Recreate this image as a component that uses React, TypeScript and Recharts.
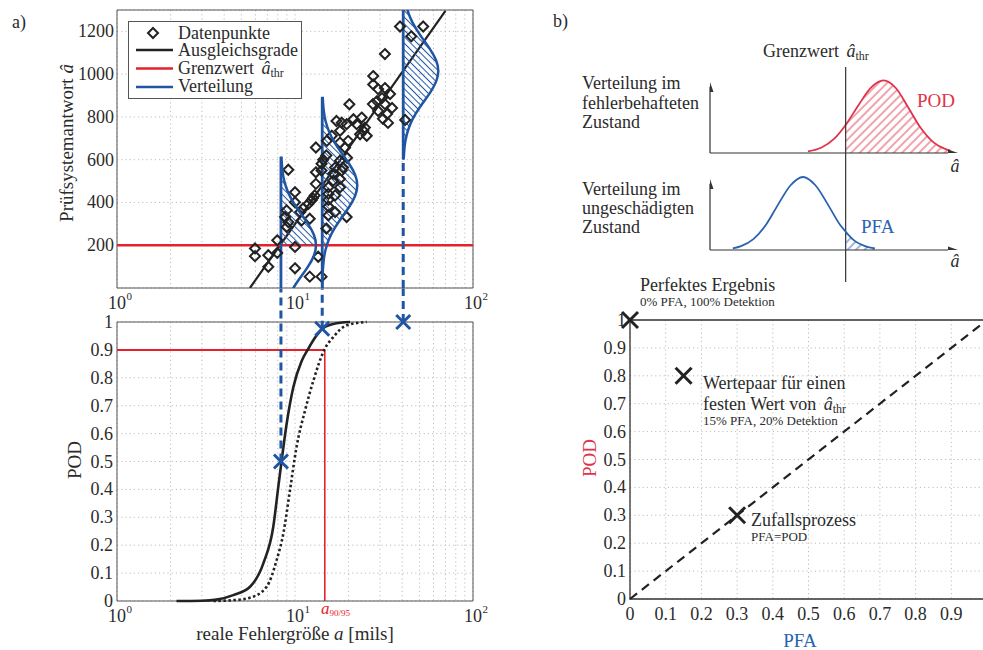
import React from 'react';
import {
  ComposedChart, Line, Scatter, Area, XAxis, YAxis, CartesianGrid,
  ReferenceLine, ReferenceArea, Legend,
} from 'recharts';

const FONT = '"Liberation Serif", "Times New Roman", serif';
const TXT = '#2b2b2b';
const BLUE = '#1f55a3';
const RED = '#e5222b';
const RED2 = '#e0334a';
const BLUE2 = '#2a62b0';
const GRID = '#bdbdbd';
const BOX = '#555';

// ---------- a) oben: Prüfsystemantwort über Fehlergröße
const logTicks = [1, 2, 3, 4, 5, 6, 7, 8, 9, 10, 20, 30, 40, 50, 60, 70, 80, 90, 100];
const decadeTicks = [1, 10, 100];
const antwortTicks = [200, 400, 600, 800, 1000, 1200];

const datenpunkte = [
  { a: 5.96, v: 185 }, { a: 5.96, v: 149 }, { a: 7.08, v: 153 }, { a: 7.08, v: 99 },
  { a: 7.95, v: 223 }, { a: 7.95, v: 164 }, { a: 9.17, v: 553 }, { a: 10.0, v: 448 },
  { a: 10.0, v: 401 }, { a: 8.98, v: 363 }, { a: 8.8, v: 332 }, { a: 9.17, v: 308 },
  { a: 8.98, v: 285 }, { a: 10.9, v: 316 }, { a: 12.1, v: 324 }, { a: 10.0, v: 192 },
  { a: 10.0, v: 92 }, { a: 12.1, v: 53 }, { a: 13.5, v: 146 }, { a: 14.1, v: 53 },
  { a: 10.7, v: 355 }, { a: 11.1, v: 372 }, { a: 11.9, v: 394 }, { a: 12.4, v: 410 },
  { a: 12.9, v: 433 }, { a: 12.6, v: 420 }, { a: 13.1, v: 657 }, { a: 13.1, v: 541 },
  { a: 13.1, v: 487 }, { a: 15.0, v: 278 }, { a: 15.4, v: 471 }, { a: 15.4, v: 440 },
  { a: 15.4, v: 412 }, { a: 15.4, v: 381 }, { a: 15.4, v: 340 }, { a: 16.8, v: 355 },
  { a: 16.8, v: 433 }, { a: 19.5, v: 332 }, { a: 17.9, v: 471 }, { a: 17.9, v: 510 },
  { a: 18.3, v: 549 }, { a: 17.9, v: 595 }, { a: 14.1, v: 581 }, { a: 14.1, v: 549 },
  { a: 16.4, v: 535 }, { a: 16.4, v: 502 }, { a: 16.8, v: 563 }, { a: 19.1, v: 656 },
  { a: 19.6, v: 609 }, { a: 18.6, v: 563 }, { a: 15.0, v: 620 }, { a: 14.4, v: 600 },
  { a: 17.1, v: 781 }, { a: 18.3, v: 773 }, { a: 19.5, v: 766 }, { a: 21.3, v: 789 },
  { a: 22.2, v: 766 }, { a: 23.7, v: 797 }, { a: 24.7, v: 750 }, { a: 24.2, v: 735 },
  { a: 25.3, v: 712 }, { a: 23.2, v: 719 }, { a: 17.9, v: 735 }, { a: 16.1, v: 712 },
  { a: 19.9, v: 688 }, { a: 17.9, v: 680 }, { a: 15.1, v: 688 }, { a: 20.2, v: 859 },
  { a: 27.5, v: 952 }, { a: 29.3, v: 930 }, { a: 32.0, v: 935 }, { a: 34.2, v: 907 },
  { a: 30.8, v: 888 }, { a: 28.9, v: 874 }, { a: 27.4, v: 860 }, { a: 32.0, v: 860 },
  { a: 35.1, v: 842 }, { a: 29.3, v: 828 }, { a: 32.9, v: 814 }, { a: 31.2, v: 791 },
  { a: 33.3, v: 772 }, { a: 27.5, v: 991 }, { a: 32.0, v: 1094 }, { a: 41.6, v: 786 },
  { a: 38.9, v: 1223 }, { a: 45.0, v: 1177 }, { a: 52.5, v: 1223 },
];

const ausgleichsgrade = [{ a: 5.58, v: 0 }, { a: 70, v: 1296 }];
const grenzwert = 200;

const verteilung1 = [
  { a: 8.38, v: 614 }, { a: 8.5, v: 550 }, { a: 8.71, v: 500 }, { a: 9.12, v: 450 },
  { a: 9.79, v: 400 }, { a: 10.74, v: 350 }, { a: 11.83, v: 300 }, { a: 12.75, v: 250 },
  { a: 13.12, v: 200 }, { a: 12.75, v: 150 }, { a: 11.83, v: 100 }, { a: 10.74, v: 50 },
  { a: 9.79, v: 0 }, { a: 9.12, v: -50 },
];
const schraffur1 = [
  { a: 8.337, v: 200 }, { a: 8.337, v: 614 }, { a: 8.38, v: 614 }, { a: 8.5, v: 550 },
  { a: 8.71, v: 500 }, { a: 9.12, v: 450 }, { a: 9.79, v: 400 }, { a: 10.74, v: 350 },
  { a: 11.83, v: 300 }, { a: 12.75, v: 250 }, { a: 13.12, v: 200 },
];
const verteilung2 = [
  { a: 14.3, v: 894 }, { a: 14.5, v: 830 }, { a: 14.86, v: 780 }, { a: 15.56, v: 730 },
  { a: 16.7, v: 680 }, { a: 18.32, v: 630 }, { a: 20.18, v: 580 }, { a: 21.75, v: 530 },
  { a: 22.38, v: 480 }, { a: 21.75, v: 430 }, { a: 20.18, v: 380 }, { a: 18.32, v: 330 },
  { a: 16.7, v: 280 }, { a: 15.56, v: 230 }, { a: 14.86, v: 180 }, { a: 14.5, v: 130 },
  { a: 14.3, v: 66 }, { a: 14.24, v: 0 },
];
const schraffur2 = [
  { a: 14.22, v: 200 }, { a: 14.22, v: 894 }, { a: 14.3, v: 894 }, { a: 14.5, v: 830 },
  { a: 14.86, v: 780 }, { a: 15.56, v: 730 }, { a: 16.7, v: 680 }, { a: 18.32, v: 630 },
  { a: 20.18, v: 580 }, { a: 21.75, v: 530 }, { a: 22.38, v: 480 }, { a: 21.75, v: 430 },
  { a: 20.18, v: 380 }, { a: 18.32, v: 330 }, { a: 16.7, v: 280 }, { a: 15.56, v: 230 },
  { a: 15.1, v: 200 },
];
const verteilung3 = [
  { a: 40.76, v: 1429 }, { a: 41.33, v: 1365 }, { a: 42.38, v: 1315 }, { a: 44.36, v: 1265 },
  { a: 47.65, v: 1215 }, { a: 52.23, v: 1165 }, { a: 57.54, v: 1115 }, { a: 62.03, v: 1065 },
  { a: 63.83, v: 1015 }, { a: 62.03, v: 965 }, { a: 57.54, v: 915 }, { a: 52.23, v: 865 },
  { a: 47.65, v: 815 }, { a: 44.36, v: 765 }, { a: 42.38, v: 715 }, { a: 41.33, v: 665 },
  { a: 40.76, v: 601 },
];
const schraffur3 = [{ a: 40.55, v: 601 }, { a: 40.55, v: 1429 }, ...verteilung3];

// ---------- a) unten: POD-Kurven
const podTicks = [0, 0.1, 0.2, 0.3, 0.4, 0.5, 0.6, 0.7, 0.8, 0.9, 1];
const podKurve = [
  { a: 2.16, v: 0 }, { a: 3.0, v: 0.001 }, { a: 3.63, v: 0.005 }, { a: 4.5, v: 0.021 },
  { a: 5.59, v: 0.051 }, { a: 6.64, v: 0.135 }, { a: 7.55, v: 0.266 }, { a: 8.06, v: 0.41 },
  { a: 8.42, v: 0.505 }, { a: 8.98, v: 0.636 }, { a: 9.79, v: 0.767 }, { a: 10.9, v: 0.86 },
  { a: 11.9, v: 0.905 }, { a: 13.0, v: 0.945 }, { a: 14.2, v: 0.975 }, { a: 16.4, v: 0.993 },
  { a: 20.4, v: 1.0 },
];
const podKonfidenz = [
  { a: 3.48, v: 0 }, { a: 4.5, v: 0.003 }, { a: 5.59, v: 0.012 }, { a: 6.93, v: 0.051 },
  { a: 7.89, v: 0.147 }, { a: 8.6, v: 0.242 }, { a: 9.37, v: 0.397 }, { a: 10.2, v: 0.552 },
  { a: 11.4, v: 0.684 }, { a: 12.7, v: 0.791 }, { a: 14.6, v: 0.9 }, { a: 16.4, v: 0.946 },
  { a: 19.5, v: 0.988 }, { a: 25.3, v: 1.0 },
];
const podMarken = [{ a: 8.337, v: 0.5 }, { a: 14.22, v: 0.976 }, { a: 40.55, v: 1.0 }];
const a9095 = 14.7;
const podNiveau = 0.9;

// ---------- b) oben: Verteilungen
const rotKurve = [
  { x: 3.95, y: 0.02 }, { x: 4.5, y: 0.07 }, { x: 5.0, y: 0.18 }, { x: 5.47, y: 0.36 },
  { x: 6.0, y: 0.62 }, { x: 6.5, y: 0.84 }, { x: 7.0, y: 0.93 }, { x: 7.5, y: 0.83 },
  { x: 8.0, y: 0.58 }, { x: 8.5, y: 0.32 }, { x: 9.0, y: 0.14 }, { x: 9.5, y: 0.05 },
  { x: 9.7, y: 0.03 },
];
const rotSchraffur = rotKurve.filter((p) => p.x >= 5.47);
const blauKurve = [
  { x: 0.92, y: 0.02 }, { x: 1.25, y: 0.05 }, { x: 1.75, y: 0.14 }, { x: 2.25, y: 0.32 },
  { x: 2.75, y: 0.585 }, { x: 3.25, y: 0.83 }, { x: 3.75, y: 0.936 }, { x: 4.25, y: 0.83 },
  { x: 4.75, y: 0.585 }, { x: 5.25, y: 0.32 }, { x: 5.47, y: 0.235 }, { x: 5.75, y: 0.14 },
  { x: 6.25, y: 0.05 }, { x: 6.65, y: 0.02 },
];
const blauSchraffur = blauKurve.filter((p) => p.x >= 5.47);
const schwelleB = 5.47;
const pfeile = [{ x: 10, y: 0, dir: 'right' }, { x: 0, y: 0.91, dir: 'up' }];

// ---------- b) unten: ROC
const rocTicks = [0, 0.1, 0.2, 0.3, 0.4, 0.5, 0.6, 0.7, 0.8, 0.9, 1];
const rocDiagonale = [{ x: 0, y: 0 }, { x: 1, y: 1 }];
const rocPunkte = [{ x: 0, y: 1 }, { x: 0.15, y: 0.8 }, { x: 0.3, y: 0.3 }];

// ---------- shapes / ticks
const Empty = () => <g />;

const Diamond = (p: any) => {
  const { cx, cy } = p;
  if (cx == null || cy == null) return <g />;
  const r = 5;
  return (
    <path d={`M${cx},${cy - r}L${cx + r},${cy}L${cx},${cy + r}L${cx - r},${cy}Z`}
      fill="none" stroke="#222" strokeWidth={2} />
  );
};

const makeX = (color: string, r: number, w: number) => (p: any) => {
  const { cx, cy } = p;
  if (cx == null || cy == null) return <g />;
  return (
    <g stroke={color} strokeWidth={w} strokeLinecap="butt">
      <line x1={cx - r} y1={cy - r} x2={cx + r} y2={cy + r} />
      <line x1={cx - r} y1={cy + r} x2={cx + r} y2={cy - r} />
    </g>
  );
};
const BlueX = makeX(BLUE, 7, 3);
const BlackX = makeX('#222', 8, 3);

const Arrow = (p: any) => {
  const { cx, cy, payload } = p;
  if (cx == null) return <g />;
  if (payload.dir === 'right') {
    return <path d={`M${cx},${cy}L${cx - 10},${cy - 3.5}L${cx - 10},${cy + 3.5}Z`} fill="#333" />;
  }
  return <path d={`M${cx},${cy}L${cx - 3.5},${cy + 10}L${cx + 3.5},${cy + 10}Z`} fill="#333" />;
};

const LogTick = (props: any) => {
  const { x, y, payload } = props;
  const exp = decadeTicks.indexOf(payload.value);
  if (exp < 0) return <g />;
  return (
    <g>
      <text x={x} y={y + 21} textAnchor="middle" fontSize={18} fontFamily={FONT} fill={TXT}>10</text>
      <text x={x + 9.5} y={y + 12} fontSize={11} fontFamily={FONT} fill={TXT}>{exp}</text>
    </g>
  );
};

const makeYTick = (dx: number) => (props: any) => {
  const { x, y, payload } = props;
  return (
    <text x={x - dx} y={y + 6} textAnchor="end" fontSize={18} fontFamily={FONT} fill={TXT}>
      {String(payload.value)}
    </text>
  );
};
const YTickA = makeYTick(3);
const YTickB = makeYTick(4);

const LinXTick = (props: any) => {
  const { x, y, payload } = props;
  if (payload.value >= 1) return <g />;
  return (
    <text x={x} y={y + 21} textAnchor="middle" fontSize={18} fontFamily={FONT} fill={TXT}>
      {String(payload.value)}
    </text>
  );
};

const LegendA = () => (
  <svg width={174} height={78} style={{ display: 'block' }}>
    <rect x={0.5} y={0.5} width={173} height={77} fill="#fff" stroke={BOX} strokeWidth={1} />
    <path d="M25,7L30,12L25,17L20,12Z" fill="none" stroke="#222" strokeWidth={2} />
    <text x={50} y={17.5} fontSize={18} fontFamily={FONT} fill={TXT}>Datenpunkte</text>
    <line x1={8} x2={45} y1={29} y2={29} stroke="#222" strokeWidth={2.5} />
    <text x={50} y={35} fontSize={18} fontFamily={FONT} fill={TXT}>Ausgleichsgrade</text>
    <line x1={8} x2={45} y1={47.5} y2={47.5} stroke={RED} strokeWidth={2.5} />
    <text x={50} y={53} fontSize={18} fontFamily={FONT} fill={TXT}>
      Grenzwert <tspan fontStyle="italic" dx={3}>â</tspan>
      <tspan fontSize={12} dy={3}>thr</tspan>
    </text>
    <line x1={8} x2={45} y1={66} y2={66} stroke={BLUE} strokeWidth={2.5} />
    <text x={50} y={71} fontSize={18} fontFamily={FONT} fill={TXT}>Verteilung</text>
  </svg>
);

const T = (p: any) => (
  <text fontFamily={FONT} fill={TXT} fontSize={18} {...p} />
);

export default function App() {
  return (
    <div style={{
      position: 'absolute', left: 0, top: 0, width: 983, height: 650, overflow: 'hidden',
      background: '#fff', fontFamily: FONT,
    }}>
      <svg width={0} height={0} style={{ position: 'absolute' }}>
        <defs>
          <pattern id="hatchBlueA" patternUnits="userSpaceOnUse" width={4.6} height={4.6}
            patternTransform="rotate(-45)">
            <line x1={2.3} y1={-1} x2={2.3} y2={6} stroke={BLUE} strokeWidth={1} />
          </pattern>
          <pattern id="hatchRedB" patternUnits="userSpaceOnUse" width={6} height={6}
            patternTransform="rotate(45)">
            <line x1={3} y1={-1} x2={3} y2={7} stroke={RED2} strokeWidth={0.9} />
          </pattern>
          <pattern id="hatchBlueB" patternUnits="userSpaceOnUse" width={6} height={6}
            patternTransform="rotate(45)">
            <line x1={3} y1={-1} x2={3} y2={7} stroke={BLUE2} strokeWidth={0.9} />
          </pattern>
        </defs>
      </svg>

      {/* a) oben */}
      <div style={{ position: 'absolute', left: 0, top: 0 }}>
        <ComposedChart width={500} height={330} margin={{ top: 10, right: 27, bottom: 12, left: 57 }}>
          <CartesianGrid stroke={GRID} strokeDasharray="1.2 3" />
          <XAxis dataKey="a" type="number" scale="log" domain={[1, 100]} allowDataOverflow
            ticks={logTicks} interval={0} tick={LogTick} tickSize={0} tickMargin={0}
            axisLine={false} height={30} />
          <YAxis dataKey="v" type="number" domain={[0, 1300]} allowDataOverflow
            ticks={antwortTicks} interval={0} tick={YTickA} tickSize={0} tickMargin={0}
            axisLine={false} width={60} />
          <ReferenceArea x1={1} x2={100} y1={0} y2={1300} fill="none" stroke={BOX} strokeWidth={1} fillOpacity={0} />
          <Scatter data={schraffur1} shape={Empty} line={{ stroke: 'none', fill: 'url(#hatchBlueA)' }}
            lineType="joint" lineJointType="linear" isAnimationActive={false} />
          <Scatter data={schraffur2} shape={Empty} line={{ stroke: 'none', fill: 'url(#hatchBlueA)' }}
            lineType="joint" lineJointType="linear" isAnimationActive={false} />
          <Scatter data={schraffur3} shape={Empty} line={{ stroke: 'none', fill: 'url(#hatchBlueA)' }}
            lineType="joint" lineJointType="linear" isAnimationActive={false} />
          <Scatter data={datenpunkte} shape={Diamond} isAnimationActive={false} />
          <Line data={ausgleichsgrade} dataKey="v" type="linear" stroke="#222" strokeWidth={2.2}
            dot={false} isAnimationActive={false} />
          <ReferenceLine y={grenzwert} stroke={RED} strokeWidth={2.5} />
          <Scatter data={verteilung1} shape={Empty} line={{ stroke: BLUE, strokeWidth: 2.5 }}
            lineType="joint" lineJointType="natural" isAnimationActive={false} />
          <Scatter data={verteilung2} shape={Empty} line={{ stroke: BLUE, strokeWidth: 2.5 }}
            lineType="joint" lineJointType="natural" isAnimationActive={false} />
          <Scatter data={verteilung3} shape={Empty} line={{ stroke: BLUE, strokeWidth: 2.5 }}
            lineType="joint" lineJointType="natural" isAnimationActive={false} />
          <ReferenceLine segment={[{ x: 8.337, y: 0 }, { x: 8.337, y: 614 }]} stroke={BLUE} strokeWidth={2.8} />
          <ReferenceLine segment={[{ x: 14.22, y: 0 }, { x: 14.22, y: 894 }]} stroke={BLUE} strokeWidth={2.8} />
          <ReferenceLine segment={[{ x: 40.55, y: 601 }, { x: 40.55, y: 1300 }]} stroke={BLUE} strokeWidth={2.8} />
          <ReferenceLine segment={[{ x: 40.55, y: 0 }, { x: 40.55, y: 601 }]} stroke={BLUE} strokeWidth={3}
            strokeDasharray="8 5" />
          <Legend layout="vertical" align="center" verticalAlign="middle"
            wrapperStyle={{ left: 128, top: 21, width: 174, height: 78, margin: 0, padding: 0 }}
            content={() => <LegendA />} />
        </ComposedChart>
      </div>

      {/* a) unten */}
      <div style={{ position: 'absolute', left: 0, top: 285 }}>
        <ComposedChart width={500} height={365} margin={{ top: 37, right: 27, bottom: 19, left: 57 }}>
          <CartesianGrid stroke={GRID} strokeDasharray="1.2 3" />
          <XAxis dataKey="a" type="number" scale="log" domain={[1, 100]}
            ticks={logTicks} interval={0} tick={LogTick} tickSize={0} tickMargin={0}
            axisLine={false} height={30} />
          <YAxis dataKey="v" type="number" domain={[0, 1]}
            ticks={podTicks} interval={0} tick={YTickB} tickSize={0} tickMargin={0}
            axisLine={false} width={60} />
          <ReferenceArea x1={1} x2={100} y1={0} y2={1} fill="none" stroke={BOX} strokeWidth={1} fillOpacity={0} />
          <ReferenceLine segment={[{ x: 1, y: podNiveau }, { x: a9095, y: podNiveau }]} stroke={RED} strokeWidth={2} />
          <ReferenceLine segment={[{ x: a9095, y: 0 }, { x: a9095, y: podNiveau }]} stroke={RED} strokeWidth={1.6} />
          <Line data={podKonfidenz} dataKey="v" type="monotone" stroke="#222" strokeWidth={2.6}
            strokeDasharray="2.5 2.5" dot={false} isAnimationActive={false} />
          <Line data={podKurve} dataKey="v" type="monotone" stroke="#222" strokeWidth={2.6}
            dot={false} isAnimationActive={false} />
          <ReferenceLine segment={[{ x: 8.337, y: 0.5 }, { x: 8.337, y: 1.12 }]} stroke={BLUE} strokeWidth={3}
            strokeDasharray="8 5" ifOverflow="visible" />
          <ReferenceLine segment={[{ x: 14.22, y: 0.976 }, { x: 14.22, y: 1.12 }]} stroke={BLUE} strokeWidth={3}
            strokeDasharray="8 5" ifOverflow="visible" />
          <ReferenceLine segment={[{ x: 40.55, y: 1.0 }, { x: 40.55, y: 1.12 }]} stroke={BLUE} strokeWidth={3}
            strokeDasharray="8 5" ifOverflow="visible" />
          <Scatter data={podMarken} shape={BlueX} isAnimationActive={false} />
        </ComposedChart>
      </div>

      {/* b) oben: fehlerbehaftet */}
      <div style={{ position: 'absolute', left: 550, top: 0 }}>
        <ComposedChart width={433} height={290} margin={{ top: 75, right: 25, bottom: 137, left: 160 }}>
          <XAxis dataKey="x" type="number" domain={[0, 10]} hide allowDataOverflow />
          <YAxis dataKey="y" type="number" domain={[0, 1]} hide allowDataOverflow />
          <Area data={rotSchraffur} dataKey="y" type="monotone" stroke="none" fill="url(#hatchRedB)"
            fillOpacity={1} isAnimationActive={false} />
          <Line data={rotKurve} dataKey="y" type="monotone" stroke={RED2} strokeWidth={1.8}
            dot={false} isAnimationActive={false} />
          <ReferenceLine segment={[{ x: 0, y: 0 }, { x: 9.6, y: 0 }]} stroke="#333" strokeWidth={1.2} ifOverflow="visible" />
          <ReferenceLine segment={[{ x: 0, y: 0 }, { x: 0, y: 0.85 }]} stroke="#333" strokeWidth={1.2} ifOverflow="visible" />
          <ReferenceLine segment={[{ x: schwelleB, y: -1.654 }, { x: schwelleB, y: 1.103 }]} stroke="#333"
            strokeWidth={1.2} ifOverflow="visible" />
          <Scatter data={pfeile} shape={Arrow} isAnimationActive={false} />
        </ComposedChart>
      </div>

      {/* b) oben: ungeschädigt */}
      <div style={{ position: 'absolute', left: 550, top: 0 }}>
        <ComposedChart width={433} height={290} margin={{ top: 172, right: 25, bottom: 40, left: 160 }}>
          <XAxis dataKey="x" type="number" domain={[0, 10]} hide allowDataOverflow />
          <YAxis dataKey="y" type="number" domain={[0, 1]} hide allowDataOverflow />
          <Area data={blauSchraffur} dataKey="y" type="monotone" stroke="none" fill="url(#hatchBlueB)"
            fillOpacity={1} isAnimationActive={false} />
          <Line data={blauKurve} dataKey="y" type="monotone" stroke={BLUE2} strokeWidth={1.8}
            dot={false} isAnimationActive={false} />
          <ReferenceLine segment={[{ x: 0, y: 0 }, { x: 9.6, y: 0 }]} stroke="#333" strokeWidth={1.2} ifOverflow="visible" />
          <ReferenceLine segment={[{ x: 0, y: 0 }, { x: 0, y: 0.85 }]} stroke="#333" strokeWidth={1.2} ifOverflow="visible" />
          <Scatter data={pfeile} shape={Arrow} isAnimationActive={false} />
        </ComposedChart>
      </div>

      {/* b) unten: ROC */}
      <div style={{ position: 'absolute', left: 550, top: 270 }}>
        <ComposedChart width={450} height={380} margin={{ top: 50, right: 13, bottom: 21, left: 20 }}>
          <CartesianGrid stroke={GRID} strokeDasharray="1.2 3" />
          <XAxis dataKey="x" type="number" domain={[0, 1]} ticks={rocTicks} interval={0}
            tick={LinXTick} tickSize={0} tickMargin={0} axisLine={false} height={30} />
          <YAxis dataKey="y" type="number" domain={[0, 1]} ticks={rocTicks} interval={0}
            tick={YTickB} tickSize={0} tickMargin={0} axisLine={false} width={60} />
          <ReferenceArea x1={0} x2={1} y1={0} y2={1} fill="none" stroke="#333" strokeWidth={1.3} fillOpacity={0} />
          <Line data={rocDiagonale} dataKey="y" type="linear" stroke="#222" strokeWidth={2.2}
            strokeDasharray="9 6" dot={false} isAnimationActive={false} />
          <Scatter data={rocPunkte} shape={BlackX} isAnimationActive={false} />
        </ComposedChart>
      </div>

      {/* Beschriftungen */}
      <svg width={983} height={650} style={{ position: 'absolute', left: 0, top: 0, pointerEvents: 'none' }}>
        <T x={12} y={28}>a)</T>
        <T x={553} y={27}>b)</T>
        <T x={73} y={143} fontSize={19} textAnchor="middle" transform="rotate(-90 73 143)">
          Prüfsystemantwort <tspan fontStyle="italic">â</tspan>
        </T>
        <T x={81} y={460} fontSize={19} textAnchor="middle" transform="rotate(-90 81 460)">POD</T>
        <T x={295} y={640} fontSize={19} textAnchor="middle">
          reale Fehlergröße <tspan fontStyle="italic">a</tspan> [mils]
        </T>
        <text x={321} y={614} fontFamily={FONT} fill={RED} fontSize={17} fontStyle="italic">
          a<tspan fontStyle="normal" fontSize={9} dy={2}>90/95</tspan>
        </text>

        <T x={763} y={57}>Grenzwert <tspan fontStyle="italic" dx={3}>â</tspan><tspan fontSize={12} dy={3}>thr</tspan></T>
        <T x={582} y={89}>Verteilung im</T>
        <T x={582} y={108.5}>fehlerbehafteten</T>
        <T x={582} y={128}>Zustand</T>
        <T x={582} y={195}>Verteilung im</T>
        <T x={582} y={214}>ungeschädigten</T>
        <T x={582} y={233}>Zustand</T>
        <T x={917} y={107} fill={RED2} fontSize={19}>POD</T>
        <T x={861} y={233} fill={BLUE2} fontSize={19}>PFA</T>
        <T x={955} y={172} textAnchor="middle" fontStyle="italic">â</T>
        <T x={955} y={267} textAnchor="middle" fontStyle="italic">â</T>

        <T x={640} y={291}>Perfektes Ergebnis</T>
        <T x={640} y={306} fontSize={13}>0% PFA, 100% Detektion</T>
        <T x={703} y={389}>Wertepaar für einen</T>
        <T x={703} y={410}>festen Wert von <tspan fontStyle="italic" dx={3}>â</tspan><tspan fontSize={12} dy={3}>thr</tspan></T>
        <T x={703} y={425} fontSize={13}>15% PFA, 20% Detektion</T>
        <T x={751} y={526}>Zufallsprozess</T>
        <T x={751} y={541} fontSize={13}>PFA=POD</T>
        <T x={596} y={458} fontSize={19} fill={RED2} textAnchor="middle" transform="rotate(-90 596 458)">POD</T>
        <T x={800} y={647} fontSize={19} fill={BLUE2} textAnchor="middle">PFA</T>
      </svg>
    </div>
  );
}
